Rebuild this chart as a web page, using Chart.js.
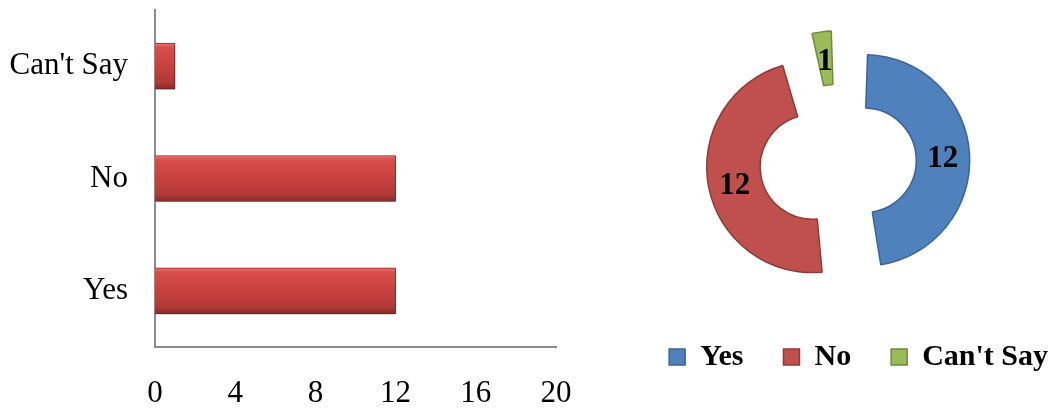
<!DOCTYPE html>
<html>
<head>
<meta charset="utf-8">
<script src="https://cdn.jsdelivr.net/npm/chart.js@4.4.1/dist/chart.umd.min.js"></script>
<style>
  html, body { margin: 0; padding: 0; background: #ffffff; overflow: hidden; width: 1051px; height: 414px; }
  #barCanvas { position: absolute; left: 0; top: 0; }
  #pieCanvas { position: absolute; left: 583px; top: 0; }
</style>
</head>
<body>
<canvas id="barCanvas" width="600" height="414"></canvas>
<canvas id="pieCanvas" width="510" height="414"></canvas>
<script>
// ---- data ----
const categories = ['Yes', 'No', "Can't Say"];
const responses = [12, 12, 1];
const xTickMin = 0;
const xTickMax = 20;
const xTickStep = 4;

// ---- styles ----
const sliceColors = ['#4F81BD', '#C0504D', '#9BBB59'];
const sliceBorders = ['#3B6596', '#8E3B38', '#71893F'];
const sliceOffsets = [104, 104, 110];
const serif = "'Liberation Serif', 'Times New Roman', serif";

// ---- bar chart ----
const BAR_H = 46;
function barGradient(context) {
  const chart = context.chart;
  const ys = chart.scales && chart.scales.y;
  if (!ys || !chart.chartArea) return '#C0504D';
  const yc = ys.getPixelForValue(context.dataIndex);
  const g = chart.ctx.createLinearGradient(0, yc - BAR_H / 2, 0, yc + BAR_H / 2);
  g.addColorStop(0, '#EC7370');
  g.addColorStop(0.1, '#D84D4A');
  g.addColorStop(0.5, '#C8413E');
  g.addColorStop(0.85, '#B03936');
  g.addColorStop(1, '#852A27');
  return g;
}

const shadowPlugin = {
  id: 'barShadow',
  beforeDatasetsDraw(chart) {
    const c = chart.ctx;
    c.save();
    c.shadowColor = 'rgba(0,0,0,0.35)';
    c.shadowBlur = 6;
    c.shadowOffsetX = 2;
    c.shadowOffsetY = 4;
  },
  afterDatasetsDraw(chart) {
    chart.ctx.restore();
  }
};

new Chart(document.getElementById('barCanvas'), {
  type: 'bar',
  data: {
    labels: categories,
    datasets: [{
      data: responses,
      backgroundColor: barGradient,
      borderColor: '#8A2A27',
      borderWidth: 1,
      barThickness: BAR_H
    }]
  },
  options: {
    indexAxis: 'y',
    responsive: false,
    animation: false,
    layout: { padding: { left: 0, right: 44, top: 10, bottom: 0 } },
    plugins: { legend: { display: false }, tooltip: { enabled: false } },
    scales: {
      x: {
        min: xTickMin,
        max: xTickMax,
        grid: { display: false, drawTicks: false },
        border: { display: true, color: '#8C8C8C', width: 2 },
        ticks: { stepSize: xTickStep, padding: 28, color: '#000', font: { family: serif, size: 31 } },
        afterFit(scale) { scale.height = 67; }
      },
      y: {
        reverse: true,
        grid: { display: false, drawTicks: false },
        border: { display: true, color: '#8C8C8C', width: 2 },
        ticks: { padding: 27, color: '#000', font: { family: serif, size: 31 } },
        afterFit(scale) { scale.width = 155; scale.paddingTop = 0; scale.paddingBottom = 0; }
      }
    }
  },
  plugins: [shadowPlugin]
});

// ---- doughnut chart ----
const sliceLabelPlugin = {
  id: 'sliceLabels',
  afterDatasetsDraw(chart) {
    const c = chart.ctx;
    const meta = chart.getDatasetMeta(0);
    c.save();
    c.fillStyle = '#000';
    c.font = 'bold 31px ' + serif;
    c.textAlign = 'center';
    c.textBaseline = 'middle';
    meta.data.forEach((arc, i) => {
      const p = arc.getProps(['x', 'y', 'startAngle', 'endAngle', 'innerRadius', 'outerRadius', 'circumference']);
      const off = (arc.options.offset || 0) / 4;
      const fix = 1 - Math.sin(Math.min(Math.PI, p.circumference || 0));
      const shift = off + off * fix;
      const mid = (p.startAngle + p.endAngle) / 2;
      const r = (p.innerRadius + p.outerRadius) / 2 + shift;
      c.fillText(String(responses[i]), p.x + Math.cos(mid) * r, p.y + Math.sin(mid) * r + 4);
    });
    c.restore();
  }
};

new Chart(document.getElementById('pieCanvas'), {
  type: 'doughnut',
  data: {
    labels: categories,
    datasets: [{
      data: responses,
      backgroundColor: sliceColors,
      borderColor: sliceBorders,
      borderWidth: 1.5,
      offset: sliceOffsets
    }]
  },
  options: {
    responsive: false,
    animation: false,
    radius: 83,
    cutout: 30,
    layout: { padding: { left: 5, right: 5, top: 22, bottom: 32 } },
    plugins: {
      tooltip: { enabled: false },
      legend: {
        position: 'bottom',
        align: 'end',
        labels: {
          boxWidth: 16,
          boxHeight: 16,
          padding: 40,
          color: '#000',
          font: { family: serif, size: 30, weight: 'bold' }
        }
      }
    }
  },
  plugins: [sliceLabelPlugin]
});
</script>
</body>
</html>
